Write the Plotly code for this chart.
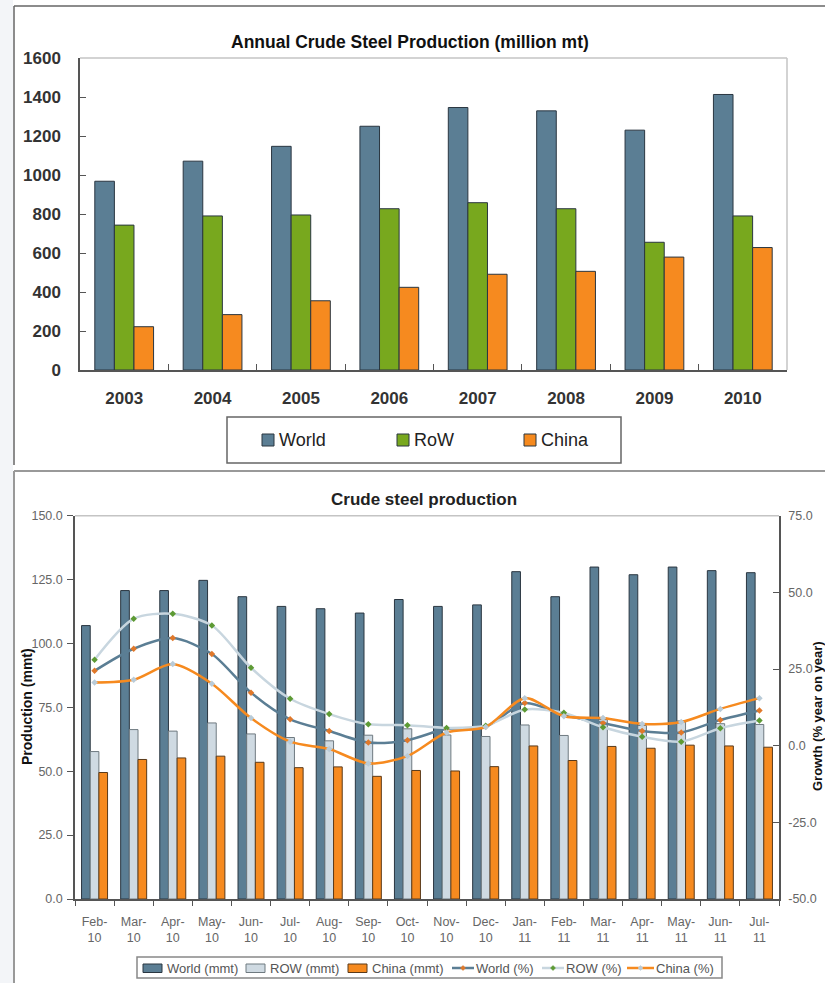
import plotly.graph_objects as go

# ---- Annual crude steel production (million mt) ----
years = ["2003", "2004", "2005", "2006", "2007", "2008", "2009", "2010"]
world_annual = [968, 1071, 1147, 1250, 1346, 1329, 1230, 1413]
row_annual = [743, 790, 795, 827, 858, 827, 655, 790]
china_annual = [222, 284, 355, 424, 491, 506, 579, 628]

# ---- Monthly crude steel production (mmt) and growth (% y/y) ----
months = ["Feb", "Mar", "Apr", "May", "Jun", "Jul", "Aug", "Sep", "Oct", "Nov", "Dec",
          "Jan", "Feb", "Mar", "Apr", "May", "Jun", "Jul"]
month_years = ["10"] * 11 + ["11"] * 7
world_mmt = [107.0, 120.7, 120.7, 124.7, 118.3, 114.5, 113.6, 111.9, 117.2, 114.5, 115.1,
             128.1, 118.3, 129.9, 126.9, 129.9, 128.5, 127.7]
row_mmt = [57.7, 66.3, 65.7, 68.9, 64.6, 63.2, 61.9, 64.1, 66.6, 64.2, 63.6,
           68.1, 64.0, 70.2, 67.9, 69.7, 68.6, 68.3]
china_mmt = [49.5, 54.6, 55.2, 55.9, 53.5, 51.4, 51.7, 48.0, 50.3, 50.1, 51.8,
             59.9, 54.2, 59.7, 59.0, 60.2, 59.9, 59.4]
world_pct = [24.4, 31.6, 35.1, 29.9, 17.3, 8.6, 4.8, 1.0, 1.8, 5.5, 6.2,
             13.9, 10.0, 7.4, 4.8, 4.3, 8.4, 11.5]
row_pct = [28.0, 41.4, 43.0, 39.2, 25.4, 15.3, 10.3, 7.0, 6.7, 5.8, 6.5,
           11.8, 10.7, 6.0, 2.9, 1.3, 5.7, 8.2]
china_pct = [20.6, 21.5, 26.6, 20.2, 9.0, 1.3, -1.1, -5.8, -3.4, 4.3, 6.1,
             15.5, 9.6, 9.0, 7.1, 7.7, 12.0, 15.5]

# axis ticks
prod_ticks = [0, 25, 50, 75, 100, 125, 150]
prod_tick_text = ["0.0", "25.0", "50.0", "75.0", "100.0", "125.0", "150.0"]
growth_ticks = [-50, -25, 0, 25, 50, 75]
growth_tick_text = ["-50.0", "-25.0", "0.0", "25.0", "50.0", "75.0"]

W, H = 825, 983
FONT = "Liberation Sans, Arial, sans-serif"

SLATE = "#5b7e94"
GREEN = "#78a81e"
ORANGE = "#f68a1f"
PALE = "#cfdae2"
PALE_LINE = "#c8d6df"
BAR_EDGE = "#2a3640"


def px(x):
    return x / W


def py(y):
    return 1 - y / H


month_labels = [f"{m}-<br>{y}" for m, y in zip(months, month_years)]
# unique category keys (month names repeat across the two years)
month_keys = [f"{m}-{y}" for m, y in zip(months, month_years)]

fig = go.Figure()

# annual bars
for vals, name, col in [(world_annual, "World", SLATE), (row_annual, "RoW", GREEN),
                        (china_annual, "China", ORANGE)]:
    fig.add_trace(go.Bar(x=years, y=vals, name=name,
                         marker=dict(color=col, line=dict(color=BAR_EDGE, width=1)),
                         xaxis="x", yaxis="y", showlegend=False))

# monthly bars
fig.add_trace(go.Bar(x=month_keys, y=world_mmt, name="World (mmt)",
                     marker=dict(color=SLATE, line=dict(color=BAR_EDGE, width=1)),
                     xaxis="x2", yaxis="y2", showlegend=False))
fig.add_trace(go.Bar(x=month_keys, y=row_mmt, name="ROW (mmt)",
                     marker=dict(color=PALE, line=dict(color="#6f7a80", width=1)),
                     xaxis="x2", yaxis="y2", showlegend=False))
fig.add_trace(go.Bar(x=month_keys, y=china_mmt, name="China (mmt)",
                     marker=dict(color=ORANGE, line=dict(color="#5a3a1a", width=1)),
                     xaxis="x2", yaxis="y2", showlegend=False))

# growth lines on the right axis
for vals, name, lc, mc in [(world_pct, "World (%)", SLATE, "#e0782a"),
                           (row_pct, "ROW (%)", PALE_LINE, "#5d9a34"),
                           (china_pct, "China (%)", ORANGE, "#b9cbd8")]:
    fig.add_trace(go.Scatter(x=month_keys, y=vals, name=name, mode="lines+markers",
                             line=dict(color=lc, width=2.5, shape="spline", smoothing=0.8),
                             marker=dict(color=mc, size=5, symbol="diamond"),
                             xaxis="x2", yaxis="y3", showlegend=False))

top_tick_font = dict(family=FONT, size=17, color="#333333", weight="bold")
bot_tick_font = dict(family=FONT, size=12.5, color="#666666")
axis_line = dict(showline=True, linecolor="#555555", linewidth=1.5, tickcolor="#555555",
                 showgrid=False, zeroline=False, automargin=False)

fig.update_layout(
    width=W, height=H,
    margin=dict(l=0, r=0, t=0, b=0, autoexpand=False),
    paper_bgcolor="white", plot_bgcolor="white",
    barmode="group", bargap=0.335, bargroupgap=0,
    font=dict(family=FONT),
    showlegend=False,
    xaxis=dict(domain=[px(80), px(787)], anchor="y", type="category",
               range=[-0.5, len(years) - 0.5],
               ticks="inside", tickson="boundaries", ticklen=6,
               tickfont=top_tick_font, ticklabelstandoff=12, **axis_line),
    yaxis=dict(domain=[py(370), py(58)], anchor="x", range=[0, 1600], dtick=200,
               ticks="inside", ticklen=6,
               tickfont=top_tick_font, ticklabelstandoff=14, **axis_line),
    xaxis2=dict(domain=[px(75), px(779)], anchor="y2", type="category",
                range=[-0.5, len(month_keys) - 0.5],
                tickmode="array", tickvals=month_keys, ticktext=month_labels,
                ticks="outside", tickson="boundaries", ticklen=5,
                tickfont=bot_tick_font, ticklabelstandoff=10, **axis_line),
    yaxis2=dict(domain=[py(899), py(515.7)], anchor="x2", range=[0, 150],
                tickmode="array", tickvals=prod_ticks, ticktext=prod_tick_text,
                ticks="outside", ticklen=6,
                tickfont=bot_tick_font, ticklabelstandoff=2, **axis_line),
    yaxis3=dict(overlaying="y2", side="right", anchor="x2", range=[-50, 75],
                tickmode="array", tickvals=growth_ticks, ticktext=growth_tick_text,
                ticks="inside", ticklen=6,
                tickfont=bot_tick_font, ticklabelstandoff=5, **axis_line),
)


def hline(x0, x1, y, color, width):
    return dict(type="line", xref="paper", yref="paper", x0=px(x0), x1=px(x1),
                y0=py(y), y1=py(y), line=dict(color=color, width=width))


def vline(x, y0, y1, color, width):
    return dict(type="line", xref="paper", yref="paper", x0=px(x), x1=px(x),
                y0=py(y0), y1=py(y1), line=dict(color=color, width=width))


def box(x0, y0, x1, y1, fill, edge, width=1):
    return dict(type="rect", xref="paper", yref="paper", x0=px(x0), x1=px(x1),
                y0=py(y1), y1=py(y0), fillcolor=fill, line=dict(color=edge, width=width))


def diamond(cx, cy, r, fill):
    path = (f"M {px(cx)},{py(cy - r)} L {px(cx + r)},{py(cy)} "
            f"L {px(cx)},{py(cy + r)} L {px(cx - r)},{py(cy)} Z")
    return dict(type="path", xref="paper", yref="paper", path=path,
                fillcolor=fill, line=dict(color=fill, width=0.5))


shapes = [
    # light strip on the far left
    dict(type="rect", xref="paper", yref="paper", x0=0, x1=px(13), y0=0, y1=1,
         fillcolor="#f3f5f8", line=dict(width=0), layer="below"),
    # frames around the two panels
    hline(14, W, 6, "#666666", 1.5),
    vline(14, 6, 465, "#666666", 1.5),
    hline(14, W, 471, "#999999", 2),
    vline(14, 471, H, "#999999", 2),
    # light borders on the open sides of the plot areas
    dict(type="line", xref="x domain", yref="y domain", x0=0, x1=1, y0=1, y1=1,
         line=dict(color="#c4c4c4", width=1.5)),
    dict(type="line", xref="x domain", yref="y domain", x0=1, x1=1, y0=0, y1=1,
         line=dict(color="#c4c4c4", width=1.5)),
    dict(type="line", xref="x2 domain", yref="y2 domain", x0=0, x1=1, y0=1, y1=1,
         line=dict(color="#c4c4c4", width=1.5)),
    # legend frames
    box(227, 417, 621, 463, "rgba(0,0,0,0)", "#666666", 1.5),
    box(137, 957, 722, 978, "rgba(0,0,0,0)", "#888888", 1.5),
]

annotations = [
    dict(text="<b>Annual Crude Steel Production (million mt)</b>", xref="paper", yref="paper",
         x=px(410), y=py(42), xanchor="center", yanchor="middle", showarrow=False,
         font=dict(family=FONT, size=17.5, color="#111111")),
    dict(text="<b>Crude steel production</b>", xref="paper", yref="paper",
         x=px(424), y=py(499), xanchor="center", yanchor="middle", showarrow=False,
         font=dict(family=FONT, size=17, color="#222222")),
    dict(text="<b>Production (mmt)</b>", xref="paper", yref="paper",
         x=px(27), y=py(707), xanchor="center", yanchor="middle", showarrow=False,
         textangle=-90, font=dict(family=FONT, size=14, color="#111111")),
    dict(text="<b>Growth (% year on year)</b>", xref="paper", yref="paper",
         x=px(817), y=py(716), xanchor="center", yanchor="middle", showarrow=False,
         textangle=-90, borderpad=0, font=dict(family=FONT, size=13, color="#111111")),
]


def legend_text(x, y, text, size, color):
    return dict(text=text, xref="paper", yref="paper", x=px(x), y=py(y),
                xanchor="left", yanchor="middle", showarrow=False, borderpad=0,
                font=dict(family=FONT, size=size, color=color))


# annual legend: square swatches
for x0, name, col in [(262, "World", SLATE), (397, "RoW", GREEN), (524, "China", ORANGE)]:
    shapes.append(box(x0, 434, x0 + 12, 446, col, BAR_EDGE, 1))
    annotations.append(legend_text(x0 + 16, 440, name, 18, "#222222"))

# monthly legend: bar swatches and line swatches
for x0, name, col, edge in [(143, "World (mmt)", SLATE, BAR_EDGE),
                            (246, "ROW (mmt)", PALE, "#6f7a80"),
                            (348, "China (mmt)", ORANGE, "#5a3a1a")]:
    shapes.append(box(x0, 964, x0 + 19, 972.5, col, edge, 1))
    annotations.append(legend_text(x0 + 23, 968, name, 13, "#555555"))

for x0, x1, name, lc, mc in [(452, 474, "World (%)", SLATE, "#e0782a"),
                             (542, 564, "ROW (%)", PALE_LINE, "#5d9a34"),
                             (627, 654, "China (%)", ORANGE, "#b9cbd8")]:
    shapes.append(hline(x0, x1, 968, lc, 2.5))
    shapes.append(diamond((x0 + x1) / 2, 968, 2.5, mc))
    annotations.append(legend_text(x1 + 1, 968, name, 13, "#555555"))

fig.update_layout(shapes=shapes, annotations=annotations)

fig.write_html("out.html")
